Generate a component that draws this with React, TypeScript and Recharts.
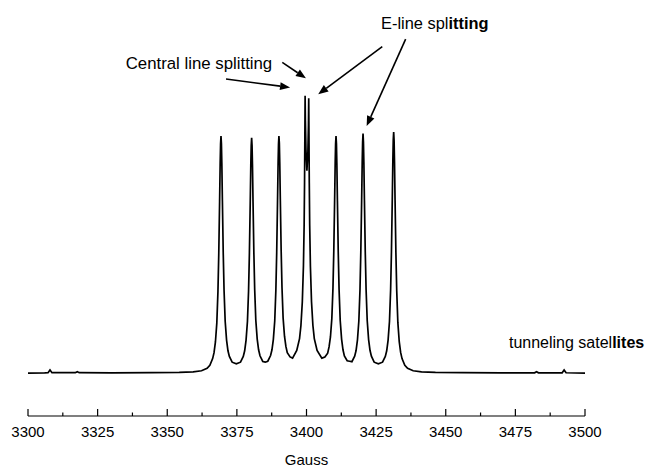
import { LineChart, Line, XAxis, YAxis, ReferenceLine, ReferenceDot } from "recharts";

// [field (G), intensity] pairs
const leftWing: [number, number][] = [
  [3300, 0], [3306, 0.1], [3307.2, 0.2], [3307.9, 1.3], [3308.6, 0.2],
  [3317.0, 0.2], [3317.7, 0.6], [3318.4, 0.2], [3330, 0.15], [3344.3, 0.2],
  [3354.3, 0.3], [3359.3, 0.5], [3362.3, 1.0], [3364.3, 2.0],
];

const peak1: [number, number][] = [
  [3365.3, 3.3], [3366.3, 6.1], [3366.8, 8.6], [3367.3, 13.1], [3367.8, 21.1],
  [3368.2, 34.2], [3368.5, 50.2], [3368.8, 72.2], [3369.0, 88], [3369.15, 96.3],
  [3369.3, 99.6], [3369.45, 96.4], [3369.6, 88.2], [3369.8, 72.5], [3370.1, 50.6],
  [3370.4, 34.7], [3370.8, 21.8], [3371.3, 13.9], [3371.8, 9.4], [3372.3, 7],
  [3373.3, 4.6], [3374.8, 3.9],
];

const peak2: [number, number][] = [
  [3376.3, 4.6], [3377.3, 7], [3377.8, 9.4], [3378.3, 13.9], [3378.8, 21.8],
  [3379.2, 34.6], [3379.5, 50.4], [3379.8, 71.8], [3380.0, 87.4], [3380.15, 95.6],
  [3380.3, 98.8], [3380.45, 95.6], [3380.6, 87.4], [3380.8, 72], [3381.1, 50.6],
  [3381.4, 35], [3381.8, 22.2], [3382.3, 14.3], [3382.8, 9.8], [3383.3, 7.3],
  [3384.3, 4.9], [3385.2, 4.6],
];

const peak3: [number, number][] = [
  [3386.1, 5], [3387.1, 7.4], [3387.6, 9.8], [3388.1, 14.2], [3388.6, 22],
  [3389.0, 34.8], [3389.3, 50.6], [3389.6, 72.3], [3389.8, 88], [3389.95, 96.3],
  [3390.1, 99.6], [3390.25, 96.5], [3390.4, 88.4], [3390.6, 73], [3390.9, 51.5],
  [3391.2, 36], [3391.6, 23.2], [3392.1, 15.5], [3392.6, 11.2], [3393.1, 8.6],
  [3394.1, 6.8], [3395.0, 6.3],
];

const centralPair: [number, number][] = [
  [3396.5, 9.5], [3397.5, 14.5], [3398.0, 20], [3398.5, 30], [3398.9, 45],
  [3399.15, 62], [3399.3, 80], [3399.4, 98], [3399.5, 116.5], [3399.6, 106],
  [3399.8, 94], [3400.15, 85], [3400.5, 93], [3400.7, 104], [3400.8, 115.4],
  [3400.9, 97], [3401.0, 80], [3401.15, 62], [3401.4, 45], [3401.8, 30],
  [3402.3, 20], [3402.8, 14.5], [3403.8, 9.5], [3405.5, 6.3],
];

const peak5: [number, number][] = [
  [3406.6, 6.8], [3407.6, 8.4], [3408.1, 11], [3408.6, 15.2], [3409.1, 23],
  [3409.5, 35.6], [3409.8, 51.2], [3410.1, 72.6], [3410.3, 88.2], [3410.45, 96.4],
  [3410.6, 99.6], [3410.75, 96.4], [3410.9, 88.1], [3411.1, 72.4], [3411.4, 50.8],
  [3411.7, 35], [3412.1, 22.2], [3412.6, 14.3], [3413.1, 9.8], [3413.6, 7.2],
  [3414.6, 5.2], [3415.45, 5.0],
];

const peak6: [number, number][] = [
  [3416.3, 4.8], [3417.3, 7.1], [3417.8, 9.5], [3418.3, 14], [3418.8, 22],
  [3419.2, 34.8], [3419.5, 50.8], [3419.8, 72.5], [3420.0, 88.4], [3420.15, 97.1],
  [3420.3, 100.6], [3420.45, 97.1], [3420.6, 88.4], [3420.8, 72.6], [3421.1, 50.9],
  [3421.4, 35], [3421.8, 22.1], [3422.3, 14.1], [3422.8, 9.6], [3423.3, 7.1],
  [3424.3, 4.6], [3425.8, 3.9],
];

const peak7: [number, number][] = [
  [3427.3, 4.6], [3428.3, 7], [3428.8, 9.4], [3429.3, 13.9], [3429.8, 21.8],
  [3430.2, 34.8], [3430.5, 50.8], [3430.8, 72.8], [3431.0, 89], [3431.15, 97.9],
  [3431.3, 101.3], [3431.45, 97.8], [3431.6, 88.8], [3431.8, 72.7], [3432.1, 50.6],
  [3432.4, 34.5], [3432.8, 21.3], [3433.3, 13.2], [3433.8, 8.7], [3434.3, 6.1],
  [3435.3, 3.3],
];

const rightWing: [number, number][] = [
  [3436.3, 2.0], [3438.3, 1.0], [3441.3, 0.5], [3446.3, 0.3], [3456, 0.2],
  [3470, 0.15], [3481.9, 0.15], [3482.6, 0.6], [3483.3, 0.15], [3491.8, 0.15],
  [3492.5, 1.3], [3493.2, 0.15], [3500, 0],
];

const majorTicks = [3300, 3325, 3350, 3375, 3400, 3425, 3450, 3475, 3500];
const minorTicks = [3312.5, 3337.5, 3362.5, 3387.5, 3412.5, 3437.5, 3462.5, 3487.5];

// annotation arrows: [fromG, fromY, toG, toY]
const arrows: [number, number, number, number][] = [
  [3391.3, 130.5, 3399.8, 123.8],
  [3371.1, 123.5, 3394.1, 120.0],
  [3427.2, 137.1, 3404.2, 117.1],
  [3435.6, 140.3, 3421.6, 103.8],
];

// annotation texts: [G, Y, regular part, bold part, font size]
const notes: [number, number, string, string, number][] = [
  [3335.1, 127.7, "Central line splitting", "", 16.8],
  [3426.75, 144.5, "E-line spl", "itting", 16.4],
  [3472.7, 10.5, "tunneling satel", "lites", 16],
];

const data = [
  ...leftWing, ...peak1, ...peak2, ...peak3, ...centralPair,
  ...peak5, ...peak6, ...peak7, ...rightWing,
].map(([g, v]) => ({ g, v }));

const allTicks = [...majorTicks, ...minorTicks].sort((a, b) => a - b);
const font = "'Liberation Sans', Arial, Helvetica, sans-serif";

function AxisTick(props: any) {
  const { x, y, payload } = props;
  const major = majorTicks.includes(payload.value);
  return (
    <g>
      <line x1={x} x2={x} y1={y} y2={y - (major ? 7 : 3.5)} stroke="#000" strokeWidth={1.2} />
      {major && (
        <text x={x} y={y + 21} textAnchor="middle" fontSize={15} fontFamily={font} fill="#000">
          {payload.value}
        </text>
      )}
    </g>
  );
}

function Arrow(props: any) {
  const { x1, y1, x2, y2 } = props;
  const dx = x2 - x1;
  const dy = y2 - y1;
  const len = Math.sqrt(dx * dx + dy * dy);
  const ux = dx / len;
  const uy = dy / len;
  const hl = 10;
  const hw = 4;
  const bx = x2 - ux * hl;
  const by = y2 - uy * hl;
  return (
    <g>
      <line x1={x1} y1={y1} x2={bx} y2={by} stroke="#000" strokeWidth={1.6} />
      <polygon
        points={`${x2},${y2} ${bx - uy * hw},${by + ux * hw} ${bx + uy * hw},${by - ux * hw}`}
        fill="#000"
      />
    </g>
  );
}

export default function App() {
  return (
    <div style={{ position: "absolute", left: 0, top: 0, background: "#fff" }}>
      <LineChart width={648} height={468} data={data} margin={{ top: 10, right: 63, bottom: 0, left: 28 }}>
        <XAxis
          dataKey="g"
          type="number"
          domain={[3300, 3500]}
          ticks={allTicks}
          interval={0}
          tickSize={0}
          tickMargin={0}
          tick={<AxisTick />}
          height={52}
          stroke="#000"
          strokeWidth={1.2}
          label={{ value: "Gauss", position: "insideBottom", offset: 3, fontSize: 15, fontFamily: font, fill: "#000" }}
        />
        <YAxis hide domain={[-18, 152.5]} type="number" />
        <Line
          type="linear"
          dataKey="v"
          stroke="#000"
          strokeWidth={1.7}
          dot={false}
          isAnimationActive={false}
        />
        {arrows.map(([fx, fy, tx, ty], i) => (
          <ReferenceLine
            key={"a" + i}
            segment={[{ x: fx, y: fy }, { x: tx, y: ty }]}
            ifOverflow="visible"
            shape={<Arrow />}
          />
        ))}
        {notes.map(([gx, gy, reg, bold, size], i) => (
          <ReferenceDot
            key={"n" + i}
            x={gx}
            y={gy}
            r={0}
            ifOverflow="visible"
            shape={(p: any) => (
              <text x={p.cx} y={p.cy} fontSize={size} fontFamily={font} fill="#000">
                <tspan>{reg}</tspan>
                {bold && <tspan fontWeight="bold">{bold}</tspan>}
              </text>
            )}
          />
        ))}
      </LineChart>
    </div>
  );
}
